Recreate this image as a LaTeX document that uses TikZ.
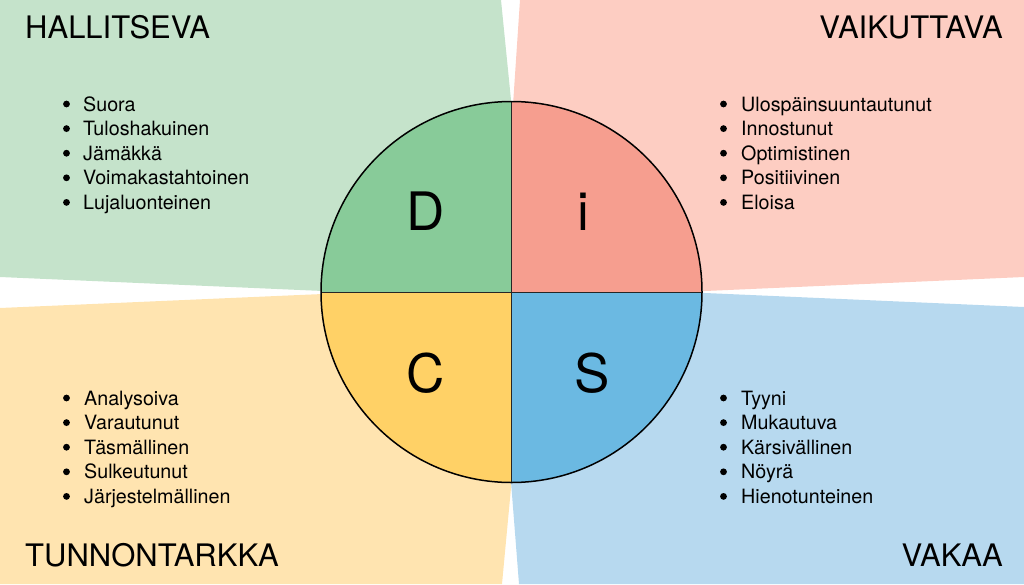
\documentclass[tikz,border=0pt]{standalone}
\usepackage{fontspec}
\setmainfont{TeX Gyre Heros}
\usetikzlibrary{calc}
\definecolor{gbg}{HTML}{C5E3CB}
\definecolor{gfg}{HTML}{88CB99}
\definecolor{pbg}{HTML}{FDCDC2}
\definecolor{pfg}{HTML}{F69E8F}
\definecolor{ybg}{HTML}{FFE4B0}
\definecolor{yfg}{HTML}{FFD166}
\definecolor{bbg}{HTML}{B7D9EF}
\definecolor{bfg}{HTML}{6BB9E2}
\tikzset{
  title/.style={inner sep=0pt, font=\fontsize{31}{36}\selectfont},
  item/.style={inner sep=0pt, anchor=base west, font=\fontsize{19.7}{24}\selectfont},
  letter/.style={inner sep=0pt, anchor=base, font=\fontsize{53}{60}\selectfont},
  bul/.style={fill=black, draw=none}
}
\begin{document}
\begin{tikzpicture}[x=1pt,y=-1pt]
\useasboundingbox (0,0) rectangle (1024,584);
% backgrounds
\fill[gbg] (0,0) -- (501,0) -- (531,300) -- (0,277) -- cycle;
\fill[pbg] (520,0) -- (1024,0) -- (1024,277) -- (500,300) -- cycle;
\fill[ybg] (0,308) -- (530,285) -- (502,584) -- (0,584) -- cycle;
\fill[bbg] (495.5,283.8) -- (1024,307) -- (1024,584) -- (519,584) -- cycle;
% circle
\coordinate (c) at (511.5,292);
\fill[gfg] (c) -- ++(-190.5,0) arc[start angle=180, end angle=270, radius=190.5] -- cycle;
\fill[pfg] (c) -- ++(0,-190.5) arc[start angle=270, end angle=360, radius=190.5] -- cycle;
\fill[bfg] (c) -- ++(190.5,0) arc[start angle=0, end angle=90, radius=190.5] -- cycle;
\fill[yfg] (c) -- ++(0,190.5) arc[start angle=90, end angle=180, radius=190.5] -- cycle;
\draw[line width=1pt, black!85] ($(c)+(-190.5,0)$) -- ($(c)+(190.5,0)$);
\draw[line width=1pt, black!85] ($(c)+(0,-190.5)$) -- ($(c)+(0,190.5)$);
\draw[line width=1.5pt] (c) circle[radius=190.5];
% letters
\node[letter] (D) at (426,230) {D};
\node[letter] (I) at (583,230) {i};
\node[letter] (C) at (426,392) {C};
\node[letter] (S) at (592,392) {S};
% titles
\node[title, anchor=base west] (t1) at (25,38) {HALLITSEVA};
\node[title, anchor=base east] (t2) at (1003,38) {VAIKUTTAVA};
\node[title, anchor=base west] (t3) at (25,566) {TUNNONTARKKA};
\node[title, anchor=base east] (t4) at (1003,566) {VAKAA};
% lists
\foreach \t [count=\i from 0] in {Suora,Tuloshakuinen,Jämäkkä,Voimakastahtoinen,Lujaluonteinen}{
  \node[item] (a\i) at (83,111+24.6*\i) {\t};
  \fill[bul] (66.5,104+24.6*\i) circle[radius=3.4];
}
\foreach \t [count=\i from 0] in {Ulospäinsuuntautunut,Innostunut,Optimistinen,Positiivinen,Eloisa}{
  \node[item] (b\i) at (741,111+24.6*\i) {\t};
  \fill[bul] (723.5,104+24.6*\i) circle[radius=3.4];
}
\foreach \t [count=\i from 0] in {Analysoiva,Varautunut,Täsmällinen,Sulkeutunut,Järjestelmällinen}{
  \node[item] (c\i) at (84,405+24.6*\i) {\t};
  \fill[bul] (66.5,398+24.6*\i) circle[radius=3.4];
}
\foreach \t [count=\i from 0] in {Tyyni,Mukautuva,Kärsivällinen,Nöyrä,Hienotunteinen}{
  \node[item] (d\i) at (741,405+24.6*\i) {\t};
  \fill[bul] (723.5,398+24.6*\i) circle[radius=3.4];
}
\end{tikzpicture}
\end{document}
